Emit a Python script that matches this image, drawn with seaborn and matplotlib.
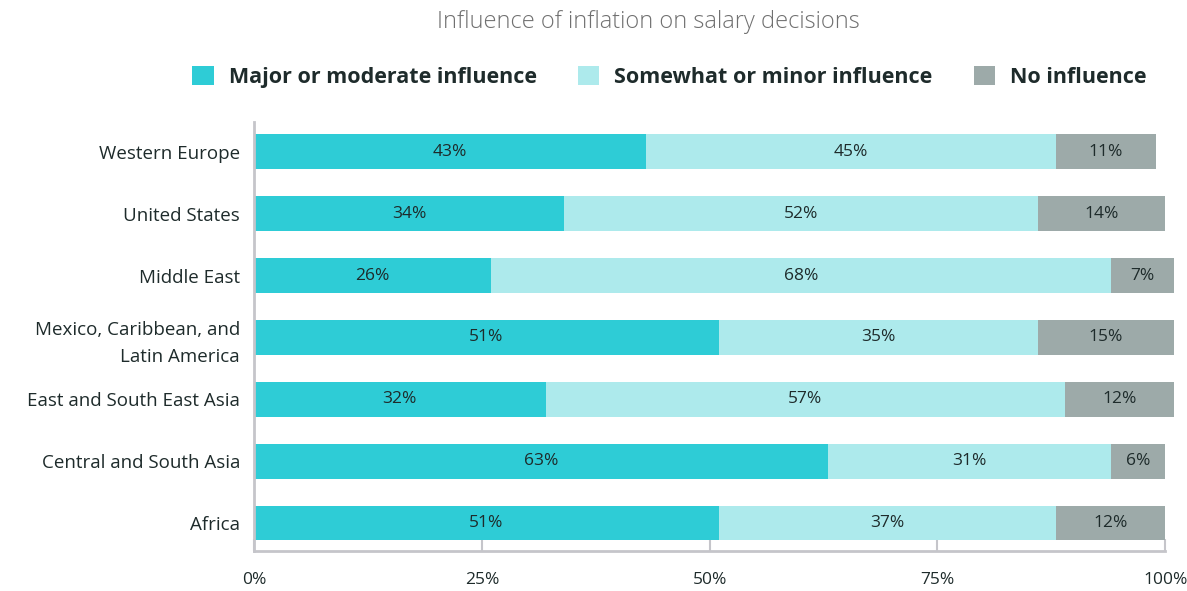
import matplotlib.pyplot as plt
import numpy as np
import pandas as pd
import seaborn as sns
from matplotlib.patches import Patch

regions = [
    "Western Europe",
    "United States",
    "Middle East",
    "Mexico, Caribbean, and\nLatin America",
    "East and South East Asia",
    "Central and South Asia",
    "Africa",
]
major = [43, 34, 26, 51, 32, 63, 51]
minor = [45, 52, 68, 35, 57, 31, 37]
none_ = [11, 14, 7, 15, 12, 6, 12]

series = ["Major or moderate influence", "Somewhat or minor influence", "No influence"]
colors = ["#2ECCD6", "#ADEAEC", "#9DAAA9"]
ticks = [0, 25, 50, 75, 100]

sns.set_theme(style="white")
plt.rcParams["font.family"] = ["Open Sans", "DejaVu Sans"]

df = pd.DataFrame({"region": regions, "major": major, "minor": minor, "none": none_})
df["c1"] = df["major"]
df["c2"] = df["major"] + df["minor"]
df["c3"] = df["c2"] + df["none"]

fig = plt.figure(figsize=(11.87, 5.91), dpi=100)
ax = fig.add_axes([254 / 1187, (591 - 551) / 591, (1179 - 254) / 1187, (551 - 122) / 591])

# stacked bars: draw cumulative totals back to front
for col, color in zip(["c3", "c2", "c1"], colors[::-1]):
    sns.barplot(data=df, y="region", x=col, color=color, width=0.56,
                saturation=1, orient="h", ax=ax, linewidth=0)

text_color = "#1E2B2B"
for i, row in df.iterrows():
    starts = [0, row["c1"], row["c2"]]
    for s, v in zip(starts, [row["major"], row["minor"], row["none"]]):
        ax.text(s + v / 2, i, f"{v}%", ha="center", va="center",
                fontsize=12.5, color=text_color)

ax.set_xlim(0, 101.5)
ax.set_ylim(len(regions) - 0.55, -0.48)
ax.set_xlabel("")
ax.set_ylabel("")
ax.set_xticks(ticks)
ax.set_xticklabels([f"{t}%" for t in ticks], fontsize=12.5, color=text_color)
ax.tick_params(axis="x", bottom=True, direction="in", length=9, width=1.5,
               color="#C5C5CA", pad=15)
ax.tick_params(axis="y", left=False, length=0, pad=10)
for lbl in ax.get_yticklabels():
    lbl.set_fontsize(13.5)
    lbl.set_color(text_color)
    lbl.set_linespacing(1.6)
    lbl.set_ha("right")
    lbl.set_multialignment("right")

sns.despine(ax=ax, top=True, right=True)
for side in ["left", "bottom"]:
    ax.spines[side].set_color("#C5C5CA")
    ax.spines[side].set_linewidth(2)
ax.spines["bottom"].set_bounds(0, 100)

fig.text(0.546, 0.962, "Influence of inflation on salary decisions",
         ha="center", va="center", fontsize=17, color="#707070", fontweight="light")

handles = [Patch(facecolor=c, edgecolor="none") for c in colors]
leg = fig.legend(handles, series, loc="center", bbox_to_anchor=(0.564, 0.87), ncol=3,
                 frameon=False, handlelength=1.0, handleheight=1.0, handletextpad=0.7,
                 columnspacing=1.9, prop={"size": 15.5, "weight": "bold"})
for t in leg.get_texts():
    t.set_color(text_color)

fig.savefig("out.png", dpi=100)
